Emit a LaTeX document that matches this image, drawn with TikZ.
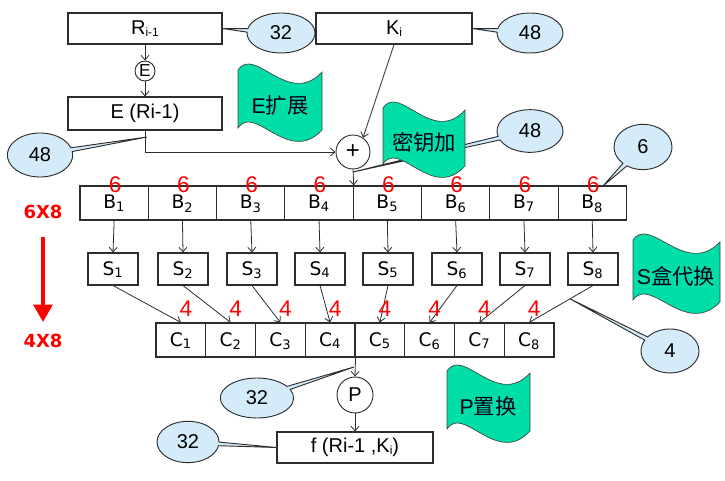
\documentclass[tikz,border=0pt]{standalone}
\usepackage{fontspec}
\setmainfont{Liberation Sans}
\newfontfamily\cjk{Noto Sans CJK SC}
\newfontfamily\vfont{DejaVu Sans}
\usetikzlibrary{shapes.geometric,shapes.callouts,arrows.meta,calc}
\definecolor{flaggreen}{RGB}{0,222,168}
\definecolor{calloutblue}{RGB}{212,236,250}
\definecolor{linegray}{RGB}{45,45,45}
\tikzset{
  box/.style={draw=linegray, line width=0.8pt, fill=white, inner sep=0pt, font=\fontsize{15}{17}\selectfont},
  cell/.style={box, font=\vfont\fontsize{14}{16}\selectfont, text height=10pt, text depth=1pt},
  arr/.style={draw=linegray, line width=0.6pt, -{Straight Barb[length=3.5pt,width=6pt]}},
  redn/.style={text=red, font=\fontsize{17}{17}\selectfont, inner sep=0pt},
  redlbl/.style={text=red, font=\vfont\bfseries\fontsize{13.5}{14}\selectfont, inner sep=0pt},
  callout/.style={ellipse callout, draw=linegray, fill=calloutblue, line width=0.7pt, callout pointer arc=10, inner sep=0pt, font=\fontsize{15}{17}\selectfont},
  ring/.style={circle, draw=linegray, line width=0.7pt, fill=white, inner sep=0pt},
  flagline/.style={draw=black!75, line width=0.5pt, fill=flaggreen},
  flagtext/.style={inner sep=0pt, font=\fontsize{16}{17}\selectfont, text=black!90!blue}
}
\newcommand\sbs[1]{\raisebox{-1.5pt}{\fontsize{9}{9}\selectfont #1}}
\newcommand\drawflag[4]{%
  \draw[flagline] ({#1},{#2+7}) .. controls ({#1+0.2*(#3-#1)},{#2-18}) and ({#1+0.6*(#3-#1)},{#2+45}) .. ({#3},{#2+9})
    -- ({#3},{#2+9+#4}) .. controls ({#1+0.6*(#3-#1)},{#2+45+#4}) and ({#1+0.2*(#3-#1)},{#2-18+#4}) .. ({#1},{#2+7+#4}) -- cycle;}
\begin{document}
\begin{tikzpicture}[x=0.75pt,y=-0.75pt]
\useasboundingbox (0,0) rectangle (725,481);
% top boxes
\node[box, minimum width=115.5pt, minimum height=23.25pt] (Rbox) at (145,28.5) {R\sbs{i-1}};
\node[box, minimum width=117pt, minimum height=23.25pt] (Kbox) at (394,28.5) {K\sbs{i}};
\node[ring, minimum size=15pt, font=\fontsize{13}{13}\selectfont] (Ec) at (145,71) {E};
\node[box, minimum width=115.5pt, minimum height=24.75pt] (Ebox) at (145,113.5) {E (Ri-1)};
\node[ring, minimum size=25.5pt, font=\fontsize{18}{18}\selectfont] (plus) at (353,152) {+};
% B row
\foreach \i in {1,...,8}
  \node[cell, minimum width=51.25pt, minimum height=25.5pt] (B\i) at ({80+68.3*(\i-0.5)},203) {B\textsubscript{\i}};
% S row
\foreach \x [count=\i] in {113,183,252,320,388,457,525,593}
  \node[cell, minimum width=37.5pt, minimum height=24pt] (S\i) at (\x,269) {S\textsubscript{\i}};
% C row
\foreach \i in {1,...,8}
  \node[cell, minimum width=37.3pt, minimum height=25.5pt] (C\i) at ({156+49.75*(\i-0.5)},340) {C\textsubscript{\i}};
\node[ring, minimum size=27pt, font=\fontsize{15}{15}\selectfont] (P) at (355,395) {P};
\node[box, minimum width=117pt, minimum height=23.25pt] (fbox) at (355,447.5) {f (Ri-1 ,K\sbs{i})};
% connectors
\draw[arr] (Rbox.south) -- (Ec.north);
\draw[arr] (Ec.south) -- (Ebox.north);
\draw[arr] (Ebox.south) |- (plus.west);
\draw[arr] (Kbox.south) -- (plus.55);
\draw[arr] (plus.south) -- (B4.north east);
\foreach \i in {1,...,8} {
  \draw[arr] (B\i.south) -- (S\i.north);
  \draw[arr] (S\i.south) -- (C\i.north);
}
\draw[arr] (C4.south east) -- (P.north);
\draw[arr] (P.south) -- (fbox.north);
% red numbers
\foreach \i in {1,...,8} {
  \node[redn] (six\i) at ({80+68.3*(\i-0.5)+1},185) {6};
  \node[redn] (four\i) at ({156+49.75*(\i-0.5)+5},309) {4};
}
% left labels
\node[redlbl] (l68) at (43,212) {6X8};
\node[redlbl] (l48) at (43,341) {4X8};
\coordinate (ra) at (43,237);
\coordinate (rb) at (43,322);
\draw[red, line width=3pt, -{Triangle[width=14pt,length=13pt]}] (ra) -- (rb);
% callout pointers
\coordinate (p48b) at (147,137);
\coordinate (p48c) at (353,172);
\coordinate (p6) at (603,186);
\coordinate (p4) at ($(S8.south)!0.36!(C8.north)$);
\coordinate (p32b) at (354,367);
% callouts
\node[callout, minimum width=51pt, minimum height=30pt, callout absolute pointer={(Rbox.east)}] (c32a) at (281,33) {32};
\node[callout, minimum width=49.5pt, minimum height=30pt, callout absolute pointer={(Kbox.east)}] (c48a) at (530,33) {48};
\node[callout, minimum width=49pt, minimum height=33pt, callout absolute pointer={(p48b)}] (c48b) at (40,155) {48};
\node[callout, minimum width=49.5pt, minimum height=32pt, callout absolute pointer={(p48c)}] (c48c) at (530,131) {48};
\node[callout, minimum width=43.5pt, minimum height=34pt, callout absolute pointer={(p6)}] (c6) at (643,147) {6};
\node[callout, minimum width=43.5pt, minimum height=33pt, callout absolute pointer={(p4)}] (c4) at (670,351) {4};
\node[callout, minimum width=55pt, minimum height=30pt, callout absolute pointer={(p32b)}] (c32b) at (257,398) {32};
\node[callout, minimum width=46.5pt, minimum height=31pt, callout absolute pointer={(fbox.west)}] (c32c) at (188,442) {32};
% flags
\drawflag{238}{63}{322}{58}
\node[flagtext] (tE) at (280,105) {E{\cjk 扩展}};
\drawflag{383}{101}{465}{56}
\node[flagtext] (tK) at (424,142) {\cjk 密钥加};
\drawflag{447}{364}{530}{58}
\node[flagtext] (tP) at (488,406) {P{\cjk 置换}};
\drawflag{633}{233}{720}{60}
\node[flagtext] (tS) at (676,276) {S{\cjk 盒代换}};
\end{tikzpicture}
\end{document}
